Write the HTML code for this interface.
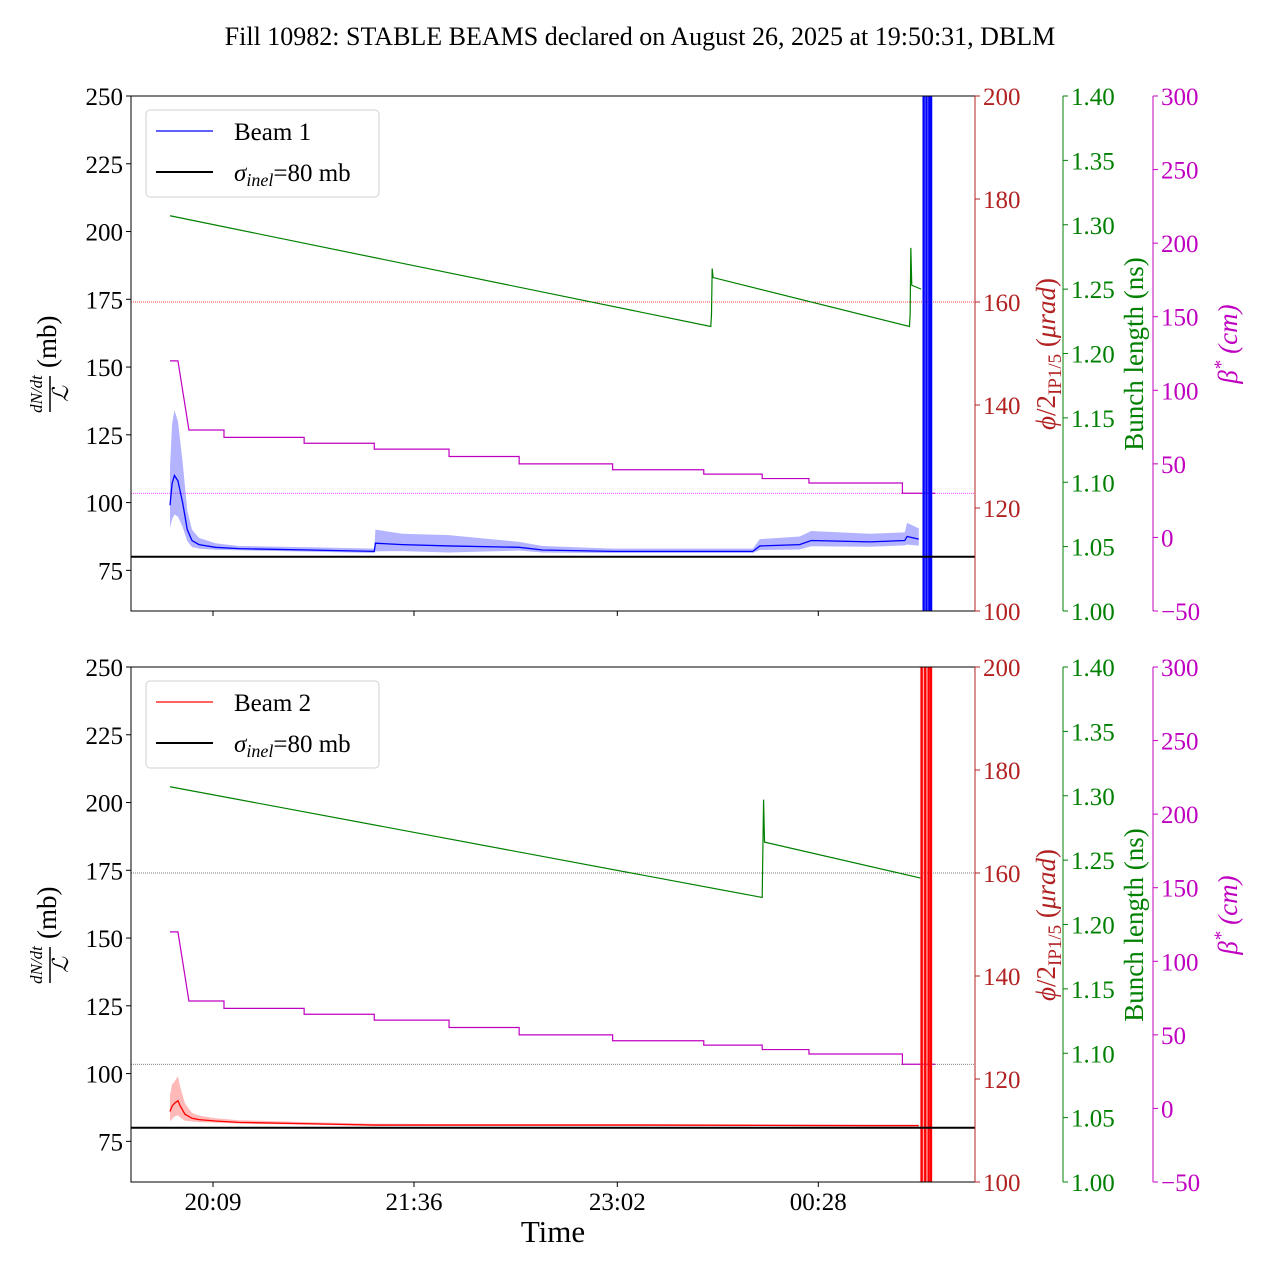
<!DOCTYPE html>
<html><head><meta charset="utf-8">
<style>
html,body{margin:0;padding:0;background:#fff;}
svg{display:block;font-family:"Liberation Serif",serif;}
</style></head>
<body>
<svg id="chart" width="1280" height="1280" viewBox="0 0 1280 1280" xmlns="http://www.w3.org/2000/svg">
<text x="640" y="45" font-size="26" text-anchor="middle">Fill 10982: STABLE BEAMS declared on August 26, 2025 at 19:50:31, DBLM</text>
</svg>
<script>
// ---- data (time in minutes after 19:50) ----
const xTickMinutes = [19, 105, 192, 278];
const xTickLabels = ["20:09", "21:36", "23:02", "00:28"];
const leftTicks = [75, 100, 125, 150, 175, 200, 225, 250];
const redTicks = [100, 120, 140, 160, 180, 200];
const greenTicks = [1.00, 1.05, 1.10, 1.15, 1.20, 1.25, 1.30, 1.35, 1.40];
const magTicks = [-50, 0, 50, 100, 150, 200, 250, 300];

const betaTimes = [0.6, 4, 8.7, 23.7, 58, 88, 120, 150, 190, 229, 254, 274, 314, 328];
const betaValues = [120, 120, 73, 68, 64, 60, 55, 50, 46, 43, 40, 37, 30, 30];

const green1Times = [0.6, 232, 232.3, 232.6, 233, 317, 317.3, 317.6, 318, 322];
const green1Values = [1.307, 1.221, 1.23, 1.266, 1.259, 1.221, 1.23, 1.282, 1.253, 1.250];
const green2Times = [0.6, 254, 254.3, 254.6, 255, 322];
const green2Values = [1.307, 1.221, 1.26, 1.297, 1.264, 1.236];

const beam1Times = [0.6, 1.5, 2.5, 4, 6, 8, 10, 13, 20, 30, 60, 88, 88.5, 100, 120, 150, 160, 190, 250, 253, 270, 275, 300, 315, 316, 321];
const beam1Values = [99, 107, 110, 108, 100, 90, 86, 84.5, 83.5, 83, 82.5, 82, 85, 84.5, 84, 83.5, 82.5, 82, 82, 84, 84.5, 86, 85.5, 86, 87.5, 86.5];
const beam1Spread = [14, 22, 24, 22, 15, 7, 4, 2.5, 1.5, 1, 1, 1, 5, 4, 4, 2, 1.5, 1, 1, 2.5, 3, 3.5, 3, 3, 5, 4];

const beam2Times = [0.6, 1.5, 2.5, 4, 5, 7, 10, 13, 20, 30, 60, 88, 120, 200, 300, 321];
const beam2Values = [86, 88, 89, 90, 88, 85, 83.5, 83, 82.5, 82, 81.5, 81, 81, 81, 80.8, 80.8];
const beam2Spread = [6, 8, 8, 9, 7, 4, 2, 1.5, 1, 0.8, 0.6, 0.5, 0.4, 0.4, 0.4, 0.4];

const sigmaInel = 80;
const crossingAngle = 160;
const betaRef = 30;
const dumpStart = [322.5, 321.5];
const dumpEnd = [326.5, 326.5];

// ---- geometry ----
const X0 = 131, X1 = 975;
function xs(m) { return 213 + (m - 19) * 2.337; }
const NS = "http://www.w3.org/2000/svg";
const svg = document.getElementById('chart');
function mk(tag, attrs, parent) {
  const e = document.createElementNS(NS, tag);
  for (const k in attrs) e.setAttribute(k, attrs[k]);
  (parent || svg).appendChild(e);
  return e;
}

function panel(top, beamName, color, fillColor, bTimes, bVals, bSpread, gTimes, gVals, refColor, idx, showX) {
  const bot = top + 515;
  const g = mk('g', {});
  
  
  const yL = v => top + (250 - v) / 190 * 515;
  const yR = v => top + (200 - v) / 100 * 515;
  const yG = v => top + (1.40 - v) / 0.40 * 515;
  const yM = v => top + (300 - v) / 350 * 515;
  const clipId = 'clip' + idx;
  const cp = mk('clipPath', { id: clipId }, g);
  mk('rect', { x: X0, y: top, width: X1 - X0, height: 515 }, cp);
  const plot = mk('g', { 'clip-path': 'url(#' + clipId + ')' }, g);

  const r1 = mk('line', { x1: X0, x2: X1, y1: yR(crossingAngle), y2: yR(crossingAngle), stroke: refColor[0], 'stroke-width': 0.8, 'stroke-dasharray': '1,1' }, plot);
  
  
  const r2 = mk('line', { x1: X0, x2: X1, y1: yM(betaRef), y2: yM(betaRef), stroke: refColor[1], 'stroke-width': 0.8, 'stroke-dasharray': '1,1' }, plot);
  
  

  let d = '';
  for (let i = 0; i < betaTimes.length; i++) {
    const x = xs(betaTimes[i]), y = yM(betaValues[i]);
    if (i === 0) d = 'M' + x + ',' + y;
    else if (i === 1 || i === 2) d += ' L' + x + ',' + y;
    else d += ' L' + x + ',' + yM(betaValues[i - 1]) + ' L' + x + ',' + y;
  }
  const bl = mk('path', { d: d, fill: 'none', stroke: '#c000c0', 'stroke-width': 1.2 }, plot);
  
  

  const gl = mk('path', { d: gTimes.map((t, i) => (i ? 'L' : 'M') + xs(t) + ',' + yG(gVals[i])).join(' '), fill: 'none', stroke: 'green', 'stroke-width': 1.2 }, plot);
  
  

  const up = bTimes.map((t, i) => xs(t) + ',' + yL(bVals[i] + bSpread[i]));
  const lo = bTimes.map((t, i) => xs(t) + ',' + yL(bVals[i] - bSpread[i] * 0.6)).reverse();
  const band = mk('polygon', { points: up.concat(lo).join(' '), fill: fillColor, opacity: 0.4 }, plot);
  
  
  const ln = mk('path', { d: bTimes.map((t, i) => (i ? 'L' : 'M') + xs(t) + ',' + yL(bVals[i])).join(' '), fill: 'none', stroke: color, 'stroke-width': 1.3 }, plot);
  
  

  const xa = xs(dumpStart[idx]), xb = xs(dumpEnd[idx]);
  const sp = mk('rect', { x: xa, y: top, width: xb - xa, height: 515, fill: fillColor, opacity: 0.5 }, plot);
  
  
  [0.15, 0.45, 0.75, 0.95].forEach(f => {
    const xl = xa + (xb - xa) * f;
    const l = mk('line', { x1: xl, x2: xl, y1: top, y2: bot, stroke: color, 'stroke-width': 2.2 }, plot);
    
    
  });

  const sl = mk('line', { x1: X0, x2: X1, y1: yL(sigmaInel), y2: yL(sigmaInel), stroke: '#000', 'stroke-width': 2 }, plot);
  
  

  mk('rect', { x: X0, y: top, width: X1 - X0, height: 515, fill: 'none', stroke: '#000', 'stroke-width': 1 }, g);

  leftTicks.forEach(v => {
    const y = yL(v);
    mk('line', { x1: X0 - 5, x2: X0, y1: y, y2: y, stroke: '#000' }, g);
    const t = mk('text', { x: X0 - 8, y: y + 9, 'font-size': 25, 'text-anchor': 'end' }, g);
    t.textContent = v;
    
    
  });
  xTickMinutes.forEach((m, i) => {
    const x = xs(m);
    mk('line', { x1: x, x2: x, y1: bot, y2: bot + 5, stroke: '#000' }, g);
    if (showX) {
      const t = mk('text', { x: x, y: bot + 28, 'font-size': 25, 'text-anchor': 'middle' }, g);
      t.textContent = xTickLabels[i];
      
      
    }
  });
  const axes = [
    [975, redTicks, yR, '#b22222', v => v],
    [1063, greenTicks, yG, 'green', v => v.toFixed(2)],
    [1153, magTicks, yM, '#c000c0', v => (v < 0 ? '\u2212' + (-v) : v)]
  ];
  axes.forEach(([ax, ticks, f, c, fmt]) => {
    mk('line', { x1: ax, x2: ax, y1: top, y2: bot, stroke: c }, g);
    ticks.forEach(v => {
      const y = f(v);
      mk('line', { x1: ax, x2: ax + 5, y1: y, y2: y, stroke: c }, g);
      const t = mk('text', { x: ax + 8, y: y + 9, 'font-size': 25, fill: c }, g);
      t.textContent = fmt(v);
      
      
    });
  });

  const cy = top + 258;
  const lt = mk('g', { transform: 'translate(62,' + cy + ') rotate(-90)' }, g);
  
  
  mk('text', { x: -40, y: -20, 'font-size': 17, 'font-style': 'italic', 'text-anchor': 'middle' }, lt).textContent = 'dN/dt';
  mk('line', { x1: -58, x2: -22, y1: -12, y2: -12, stroke: '#000', 'stroke-width': 1.5 }, lt);
  mk('text', { x: -40, y: 6, 'font-size': 22, 'font-style': 'italic', 'text-anchor': 'middle' }, lt).textContent = '\u2112';
  mk('text', { x: -14, y: -6, 'font-size': 27, 'text-anchor': 'start' }, lt).textContent = '(mb)';

  const rt = mk('text', { transform: 'translate(1055,' + cy + ') rotate(-90)', 'font-size': 27, fill: '#b22222', 'text-anchor': 'middle' }, g);
  
  
  rt.innerHTML = '<tspan font-style="italic">\u03d5</tspan>/2<tspan font-size="19" dy="6">IP1/5</tspan><tspan dy="-6"> (</tspan><tspan font-style="italic">\u03bcrad</tspan>)';
  const gt = mk('text', { transform: 'translate(1143,' + cy + ') rotate(-90)', 'font-size': 27, fill: 'green', 'text-anchor': 'middle' }, g);
  gt.textContent = 'Bunch length (ns)';
  
  
  const mt = mk('text', { transform: 'translate(1237,' + (cy - 10) + ') rotate(-90)', 'font-size': 27, fill: '#c000c0', 'text-anchor': 'middle', 'font-style': 'italic' }, g);
  mt.innerHTML = '\u03b2<tspan font-size="19" dy="-10">*</tspan><tspan dy="10"> (cm)</tspan>';
  
  

  const lg = mk('g', {}, g);
  
  
  mk('rect', { x: 146, y: top + 14, width: 233, height: 87, rx: 4, fill: '#fff', stroke: '#ccc', opacity: 0.9 }, lg);
  mk('line', { x1: 156, x2: 213, y1: top + 35, y2: top + 35, stroke: color, 'stroke-width': 1.3 }, lg);
  mk('text', { x: 234, y: top + 44, 'font-size': 25 }, lg).textContent = beamName;
  mk('line', { x1: 156, x2: 213, y1: top + 76, y2: top + 76, stroke: '#000', 'stroke-width': 2 }, lg);
  const st = mk('text', { x: 234, y: top + 85, 'font-size': 25 }, lg);
  st.innerHTML = '<tspan font-style="italic">\u03c3</tspan><tspan font-size="18" font-style="italic" dy="5">inel</tspan><tspan dy="-5">=80 mb</tspan>';
}

panel(96, 'Beam 1', '#0000ff', '#4040ff', beam1Times, beam1Values, beam1Spread, green1Times, green1Values, ['#ff0000', '#ff00ff'], 0, false);
panel(667, 'Beam 2', '#ff0000', '#ff5050', beam2Times, beam2Values, beam2Spread, green2Times, green2Values, ['#555', '#555'], 1, true);

const xt = mk('text', { x: 553, y: 1242, 'font-size': 31, 'text-anchor': 'middle' });
xt.textContent = 'Time';


</script>
</body></html>
